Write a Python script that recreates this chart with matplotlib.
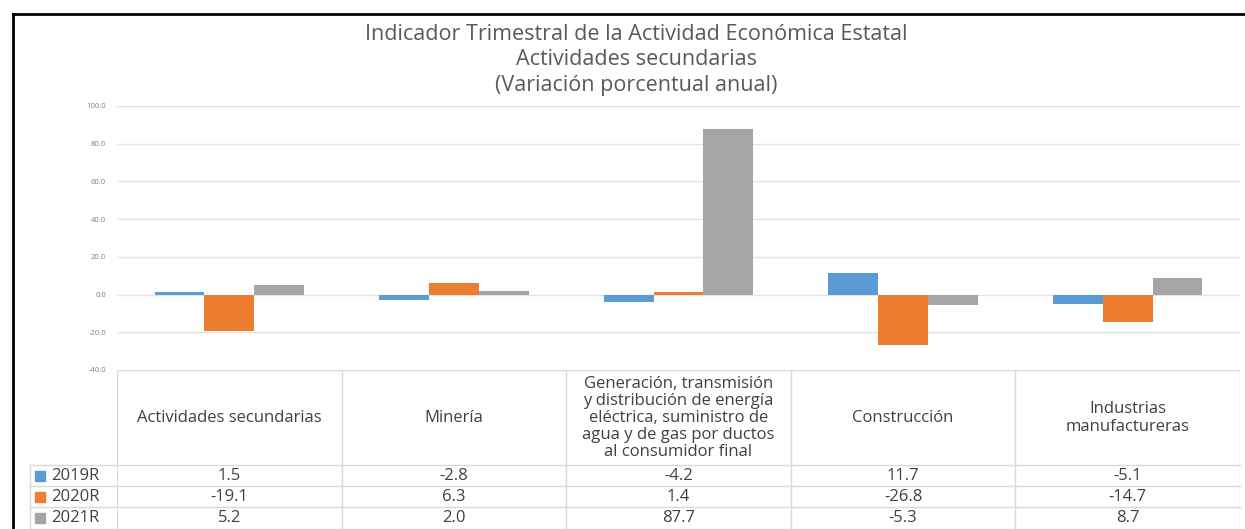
import numpy as np
import matplotlib
matplotlib.use('Agg')
from matplotlib import pyplot as plt
from matplotlib.lines import Line2D

plt.rcParams['font.family'] = ['Open Sans', 'DejaVu Sans']

# datos
categorias = [
    'Actividades secundarias',
    'Minería',
    'Generación, transmisión\ny distribución de energía\neléctrica, suministro de\nagua y de gas por ductos\nal consumidor final',
    'Construcción',
    'Industrias\nmanufactureras',
]
series = ['2019R', '2020R', '2021R']
v2019 = [1.5, -2.8, -4.2, 11.7, -5.1]
v2020 = [-19.1, 6.3, 1.4, -26.8, -14.7]
v2021 = [5.2, 2.0, 87.7, -5.3, 8.7]
valores = [v2019, v2020, v2021]
colores = ['#5B9BD5', '#ED7D31', '#A5A5A5']
yticks = [-40, -20, 0, 20, 40, 60, 80, 100]

W, H = 1245, 529
fig = plt.figure(figsize=(W / 100, H / 100), dpi=100)

# grafica de barras
ax = fig.add_axes([117 / W, 1 - 370 / H, 1123 / W, 264 / H])
x = np.arange(len(categorias))
ancho = 0.222
for i, (vals, c) in enumerate(zip(valores, colores)):
    ax.bar(x + (i - 1) * ancho, vals, ancho, color=c, zorder=3)
ax.set_xlim(-0.5, len(categorias) - 0.5)
ax.set_ylim(-40, 100)
ax.set_yticks(yticks)
ax.set_yticklabels([f'{t:.1f}' for t in yticks], fontsize=5.5, color='#7f7f7f')
ax.tick_params(axis='y', length=0, pad=8)
ax.set_xticks([])
for s in ax.spines.values():
    s.set_visible(False)
for t in yticks[1:]:
    ax.axhline(t, color='#e3e3e3', lw=1, zorder=1)

# tabla de datos
at = fig.add_axes([117 / W, 0, 1123 / W, 159 / H], sharex=ax)
at.set_ylim(159, 0)
at.axis('off')
linea = '#d9d9d9'
izq = -0.5 - 87 / 224.6
at.plot([-0.5, 4.5], [0, 0], color=linea, lw=1)
for xb in np.arange(-0.5, 5.0, 1.0):
    at.plot([xb, xb], [0, 159], color=linea, lw=1)
for yb in [95, 116, 137, 159]:
    at.plot([izq, 4.5], [yb, yb], color=linea, lw=1, clip_on=False)
at.plot([izq, izq], [95, 159], color=linea, lw=1, clip_on=False)

for i, cat in enumerate(categorias):
    at.text(i, 48, cat, ha='center', va='center', fontsize=12,
            color='#404040', linespacing=1.1)

filas_y = [106, 127, 148]
for j, (nombre, vals, c) in enumerate(zip(series, valores, colores)):
    yy = filas_y[j]
    at.plot([izq + 0.045], [yy], marker='s', ms=6.5, color=c, clip_on=False)
    at.text(izq + 0.092, yy, nombre, ha='left', va='center', fontsize=12,
            color='#404040', clip_on=False)
    for i, v in enumerate(vals):
        at.text(i, yy, f'{v:.1f}', ha='center', va='center', fontsize=12,
                color='#404040')

# titulo
titulo = ['Indicador Trimestral de la Actividad Económica Estatal',
          'Actividades secundarias',
          '(Variación porcentual anual)']
for k, t in enumerate(titulo):
    fig.text(636 / W, 1 - (34 + 25.5 * k) / H, t, ha='center', va='center',
             fontsize=15.5, color='#595959')

# marco negro
fig.add_artist(Line2D([13 / W, 1], [1 - 14 / H, 1 - 14 / H], color='black', lw=2))
fig.add_artist(Line2D([13 / W, 13 / W], [0, 1 - 14 / H], color='black', lw=2))

fig.savefig('out.png', dpi=100)
